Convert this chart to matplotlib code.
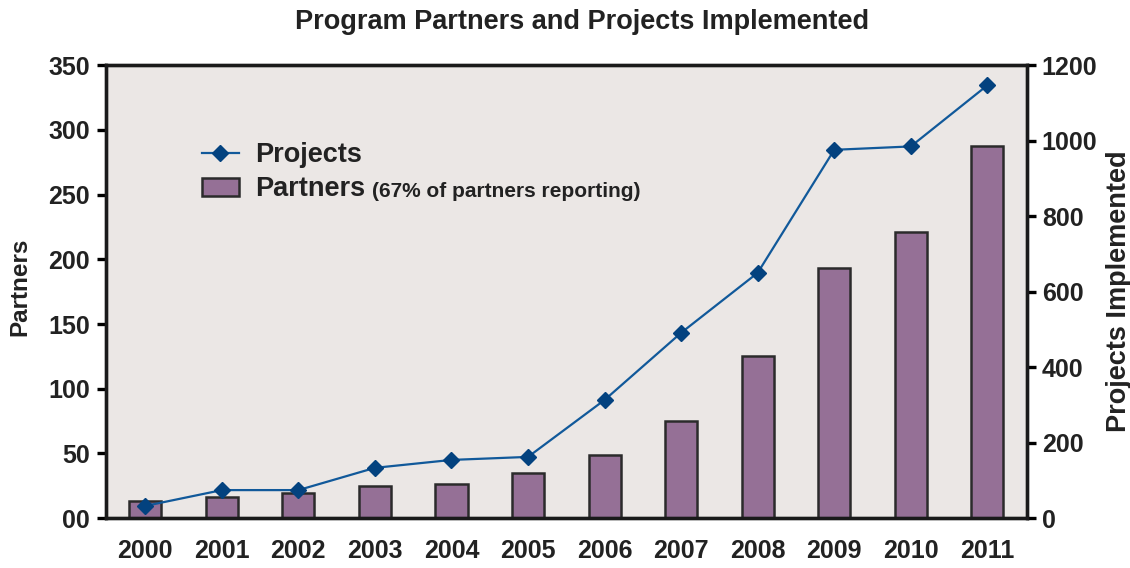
import matplotlib.pyplot as plt
import numpy as np

years = ["2000", "2001", "2002", "2003", "2004", "2005",
         "2006", "2007", "2008", "2009", "2010", "2011"]
partners = [13, 16, 19, 25, 26, 35, 49, 75, 125, 193, 221, 288]
projects = [32, 74, 74, 133, 154, 162, 313, 491, 650, 976, 985, 1147]

left_ticks = [0, 50, 100, 150, 200, 250, 300, 350]
left_labels = ["00", "50", "100", "150", "200", "250", "300", "350"]
right_ticks = [0, 200, 400, 600, 800, 1000, 1200]

plt.rcParams['font.family'] = ['Liberation Sans', 'DejaVu Sans']
plt.rcParams['font.weight'] = 'bold'

bar_color = "#957096"
line_color = "#11599a"
marker_color = "#03427f"
txt = "#222222"

fig = plt.figure(figsize=(11.3, 5.68), dpi=100)
ax = fig.add_axes([0.094, 0.088, 0.815, 0.797])
ax.set_facecolor("#ebe7e5")

x = np.arange(len(years))
bars = ax.bar(x, partners, width=0.42, color=bar_color, edgecolor="#2b2b2b",
              linewidth=1.8, label="Partners", zorder=2)
ax.set_xlim(-0.51, 11.52)
ax.set_ylim(0, 350)
ax.set_yticks(left_ticks)
ax.set_yticklabels(left_labels)
ax.set_xticks(x)
ax.set_xticklabels(years)
ax.set_ylabel("Partners", fontsize=17.5, fontweight="bold", color=txt, labelpad=4)
ax.yaxis.set_label_coords(-0.081, 0.51)

ax2 = ax.twinx()
ln, = ax2.plot(x, projects, color=line_color, linewidth=1.6, marker="D",
               markersize=8.5, markerfacecolor=marker_color,
               markeredgecolor=marker_color, label="Projects", zorder=3)
ax2.set_ylim(0, 1200)
ax2.set_yticks(right_ticks)
ax2.set_ylabel("Projects Implemented", fontsize=19.5, fontweight="bold",
               color=txt, labelpad=6)

for a in (ax, ax2):
    for s in a.spines.values():
        s.set_linewidth(2.4)
        s.set_color("#1a1a1a")
    a.tick_params(axis="y", direction="out", length=6.5, width=2.4,
                  labelsize=18, labelcolor=txt)
ax.tick_params(axis="y", pad=5)
ax2.tick_params(axis="y", pad=4)
ax.tick_params(axis="x", length=0, labelsize=18, labelcolor=txt, pad=15)

leg = ax2.legend([ln, bars], ["Projects", "Partners"], loc="upper left",
                 bbox_to_anchor=(0.104, 0.83), frameon=False, fontsize=19.5,
                 handlelength=1.35, handleheight=0.65, labelspacing=0.3,
                 handletextpad=0.6, borderpad=0, borderaxespad=0)
for t in leg.get_texts():
    t.set_color(txt)

fig.suptitle("Program Partners and Projects Implemented", fontsize=19.5,
             fontweight="bold", color=txt, x=0.515, y=0.985)

# small note right after the "Partners" legend entry
fig.canvas.draw()
bb = leg.get_texts()[1].get_window_extent()
note_size = 15
base = bb.y0 + 0.21 * 19.5 * fig.dpi / 72
px, py = fig.transFigure.inverted().transform((bb.x1 + 7, base))
fig.text(px, py, "(67% of partners reporting)", fontsize=note_size,
         fontweight="bold", color=txt, va="baseline", ha="left")

fig.savefig("out.png", dpi=100)
